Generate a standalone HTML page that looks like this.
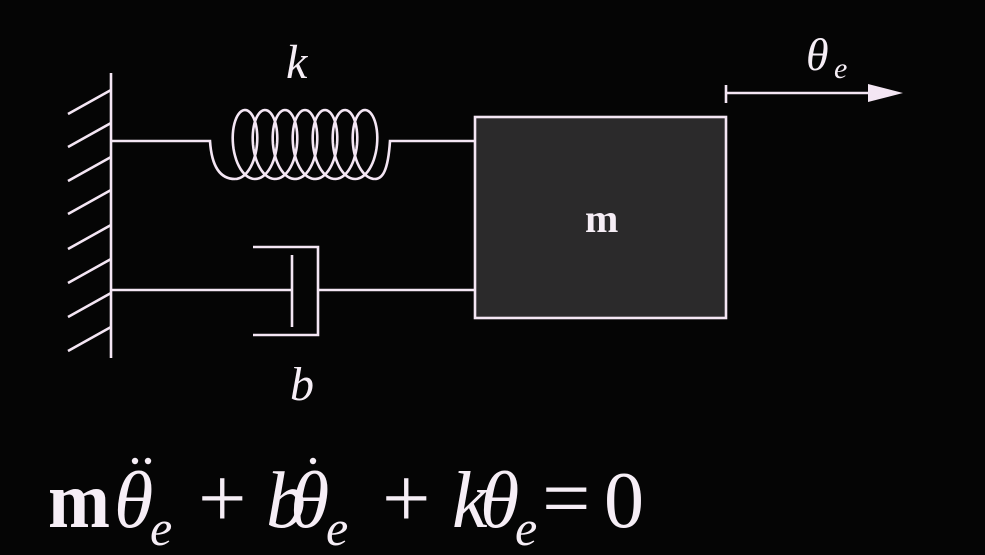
<!DOCTYPE html>
<html><head><meta charset="utf-8"><style>
html,body{margin:0;padding:0;background:#050505;}
svg{display:block}
text{font-family:"Liberation Serif",serif;fill:#f6eef6}
</style></head><body>
<svg width="985" height="555" viewBox="0 0 985 555" xmlns="http://www.w3.org/2000/svg">
<rect width="985" height="555" fill="#050505"/>
<g stroke="#f4e6f4" stroke-width="2.6" fill="none">
<line x1="111" y1="73" x2="111" y2="358"/>
<path d="M111 90 L68 114 M111 123 L68 147 M111 157 L68 181 M111 190 L68 214 M111 225 L68 249 M111 259 L68 283 M111 293 L68 317 M111 327 L68 351"/>
<path d="M111 141 H210 C212 172 224 179 235 179"/>
<path id="coil" d=""/>
<path d="M375 179 C382 179 388 172 390 141 H475"/>
<path d="M111 290 H292 M292 255 V327 M253 247 H318 V335 H253 M318 290 H475"/>
<rect x="475" y="117" width="251" height="201" fill="#2b2a2b"/>
<path d="M726 85 V103 M726 93 H872"/>
</g>
<polygon points="868,84 903,93 868,102" fill="#f4e6f4"/>
<text x="585" y="232" font-size="40" font-weight="bold">m</text>
<text x="286" y="78" font-size="48" font-style="italic">k</text>
<text x="290" y="400" font-size="48" font-style="italic">b</text>
<text x="806" y="70" font-size="46" font-style="italic">θ</text>
<text x="834" y="78" font-size="30" font-style="italic">e</text>
<g font-size="80">
<text x="48" y="527" font-weight="bold" textLength="62" lengthAdjust="spacingAndGlyphs">m</text>
<text x="114" y="527" font-style="italic">θ</text>
<text x="150" y="545" font-size="50" font-style="italic">e</text>
<text x="198" y="527" font-size="86">+</text>
<text x="266" y="527" font-style="italic">b</text>
<text x="290" y="527" font-style="italic">θ</text>
<text x="326" y="545" font-size="50" font-style="italic">e</text>
<text x="382" y="527" font-size="86">+</text>
<text x="452" y="527" font-style="italic">k</text>
<text x="480" y="527" font-style="italic">θ</text>
<text x="515" y="545" font-size="50" font-style="italic">e</text>
<text x="542" y="527" font-size="86">=</text>
<text x="604" y="527">0</text>
</g>
<g fill="#f6eef6">
<circle cx="135" cy="461" r="3.2"/><circle cx="148" cy="461" r="3.2"/>
<circle cx="313" cy="461" r="3.2"/>
</g>
</svg>
<script>
(function(){
var d="",a=245,p=20,rx=17,c=144.5,ry=34.5,N=400;
for(var i=0;i<=N;i++){var t=-Math.PI+14*Math.PI*i/N;
var x=a+p*t/(2*Math.PI)-rx*Math.sin(t),y=c-ry*Math.cos(t);
d+=(i?"L":"M")+x.toFixed(2)+" "+y.toFixed(2);}
document.getElementById("coil").setAttribute("d",d);
})();
</script>
</body></html>
